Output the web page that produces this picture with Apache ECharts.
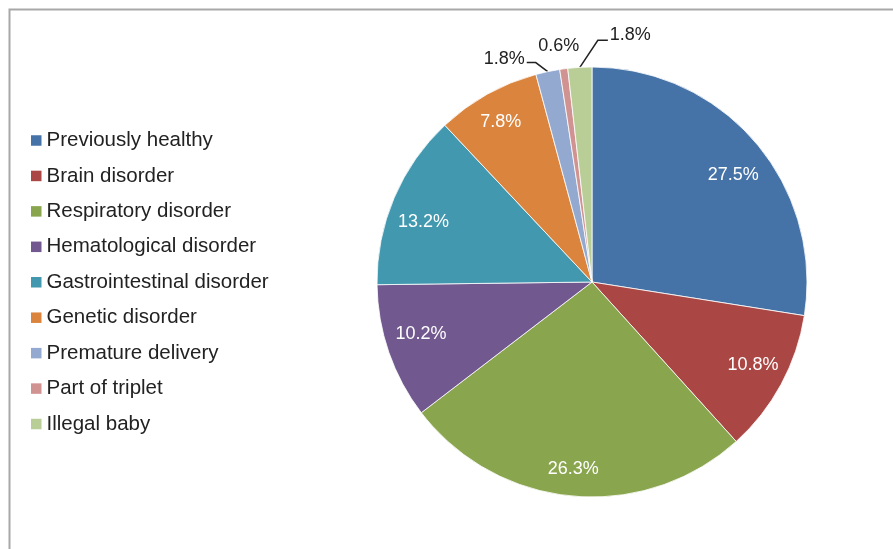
<!DOCTYPE html>
<html>
<head>
<meta charset="utf-8">
<script src="https://cdn.jsdelivr.net/npm/echarts@6/dist/echarts.min.js"></script>
<style>
html,body{margin:0;padding:0;background:#fff;}
#chart{width:893px;height:549px;}
</style>
</head>
<body>
<div id="chart"></div>
<script>
const categories = ['Previously healthy','Brain disorder','Respiratory disorder','Hematological disorder','Gastrointestinal disorder','Genetic disorder','Premature delivery','Part of triplet','Illegal baby'];
const values = [27.5, 10.8, 26.3, 10.2, 13.2, 7.8, 1.8, 0.6, 1.8];
const colors = ['#4572A7','#AA4643','#89A54E','#71588F','#4198AF','#DB843D','#93A9CF','#D19392','#B9CD96'];
const outsideThreshold = 5;
// small nudges of inner labels (Excel best-fit placement)
const innerLabelNudge = [[2,12],[0,-4],[-2,5],[2,-8],[0,12],[-2,0],[0,0],[0,0],[0,0]];

const chart = echarts.init(document.getElementById('chart'));
const fontFam = '"Liberation Sans", Arial, sans-serif';

const mainData = categories.map((c, i) => ({
  name: c,
  value: values[i],
  itemStyle: { color: colors[i] },
  label: { show: values[i] < outsideThreshold },
  labelLine: { show: values[i] < outsideThreshold && i !== 7 }
}));
const overlayData = categories.map((c, i) => ({
  name: c,
  value: values[i],
  label: { show: values[i] >= outsideThreshold, offset: innerLabelNudge[i] }
}));

chart.setOption({
  animation: false,
  color: colors,
  graphic: [{
    type: 'rect',
    shape: { x: 9.5, y: 9.5, width: 1000, height: 700 },
    style: { fill: 'none', stroke: '#a8a8a8', lineWidth: 2 },
    silent: true
  }],
  legend: {
    orient: 'vertical',
    left: 31,
    top: 130,
    padding: 0,
    itemWidth: 10.5,
    itemHeight: 10.5,
    itemGap: 14.44,
    icon: 'rect',
    itemStyle: { borderWidth: 0 },
    data: categories,
    textStyle: { fontFamily: fontFam, fontSize: 20.5, color: '#222', lineHeight: 20 }
  },
  series: [{
    type: 'pie',
    center: [592, 282],
    radius: 215,
    startAngle: 90,
    clockwise: true,
    avoidLabelOverlap: false,
    itemStyle: { borderColor: '#fff', borderWidth: 0.8 },
    label: {
      position: 'outside',
      formatter: p => p.value.toFixed(1) + '%',
      fontFamily: fontFam, fontSize: 18, color: '#222'
    },
    labelLine: { length: 10, length2: 10, lineStyle: { color: '#222', width: 1.5 } },
    labelLayout: function (params) {
      const pts = params.labelLinePoints;
      if (!pts) return {};
      const p0 = pts[0];
      if (params.dataIndex === 6) {
        const p1 = [p0[0] - 12, p0[1] - 9];
        const p2 = [p1[0] - 9, p1[1]];
        return { x: p2[0] - 2, y: p2[1] - 4, align: 'right', verticalAlign: 'middle', labelLinePoints: [p0, p1, p2] };
      }
      if (params.dataIndex === 7) {
        return { x: p0[0] - 5, y: p0[1] - 23, align: 'center', verticalAlign: 'middle' };
      }
      if (params.dataIndex === 8) {
        const p1 = [p0[0] + 18, p0[1] - 27];
        const p2 = [p1[0] + 10, p1[1]];
        return { x: p2[0] + 2, y: p2[1] - 5, align: 'left', verticalAlign: 'middle', labelLinePoints: [p0, p1, p2] };
      }
      return {};
    },
    emphasis: { disabled: true },
    data: mainData
  }, {
    type: 'pie',
    center: [592, 282],
    radius: [145, 215],
    startAngle: 90,
    clockwise: true,
    silent: true,
    itemStyle: { color: 'rgba(0,0,0,0)', borderWidth: 0 },
    label: {
      position: 'inside',
      formatter: p => p.value.toFixed(1) + '%',
      fontFamily: fontFam, fontSize: 18, color: '#fff'
    },
    labelLine: { show: false },
    emphasis: { disabled: true },
    data: overlayData
  }]
});
</script>
</body>
</html>
